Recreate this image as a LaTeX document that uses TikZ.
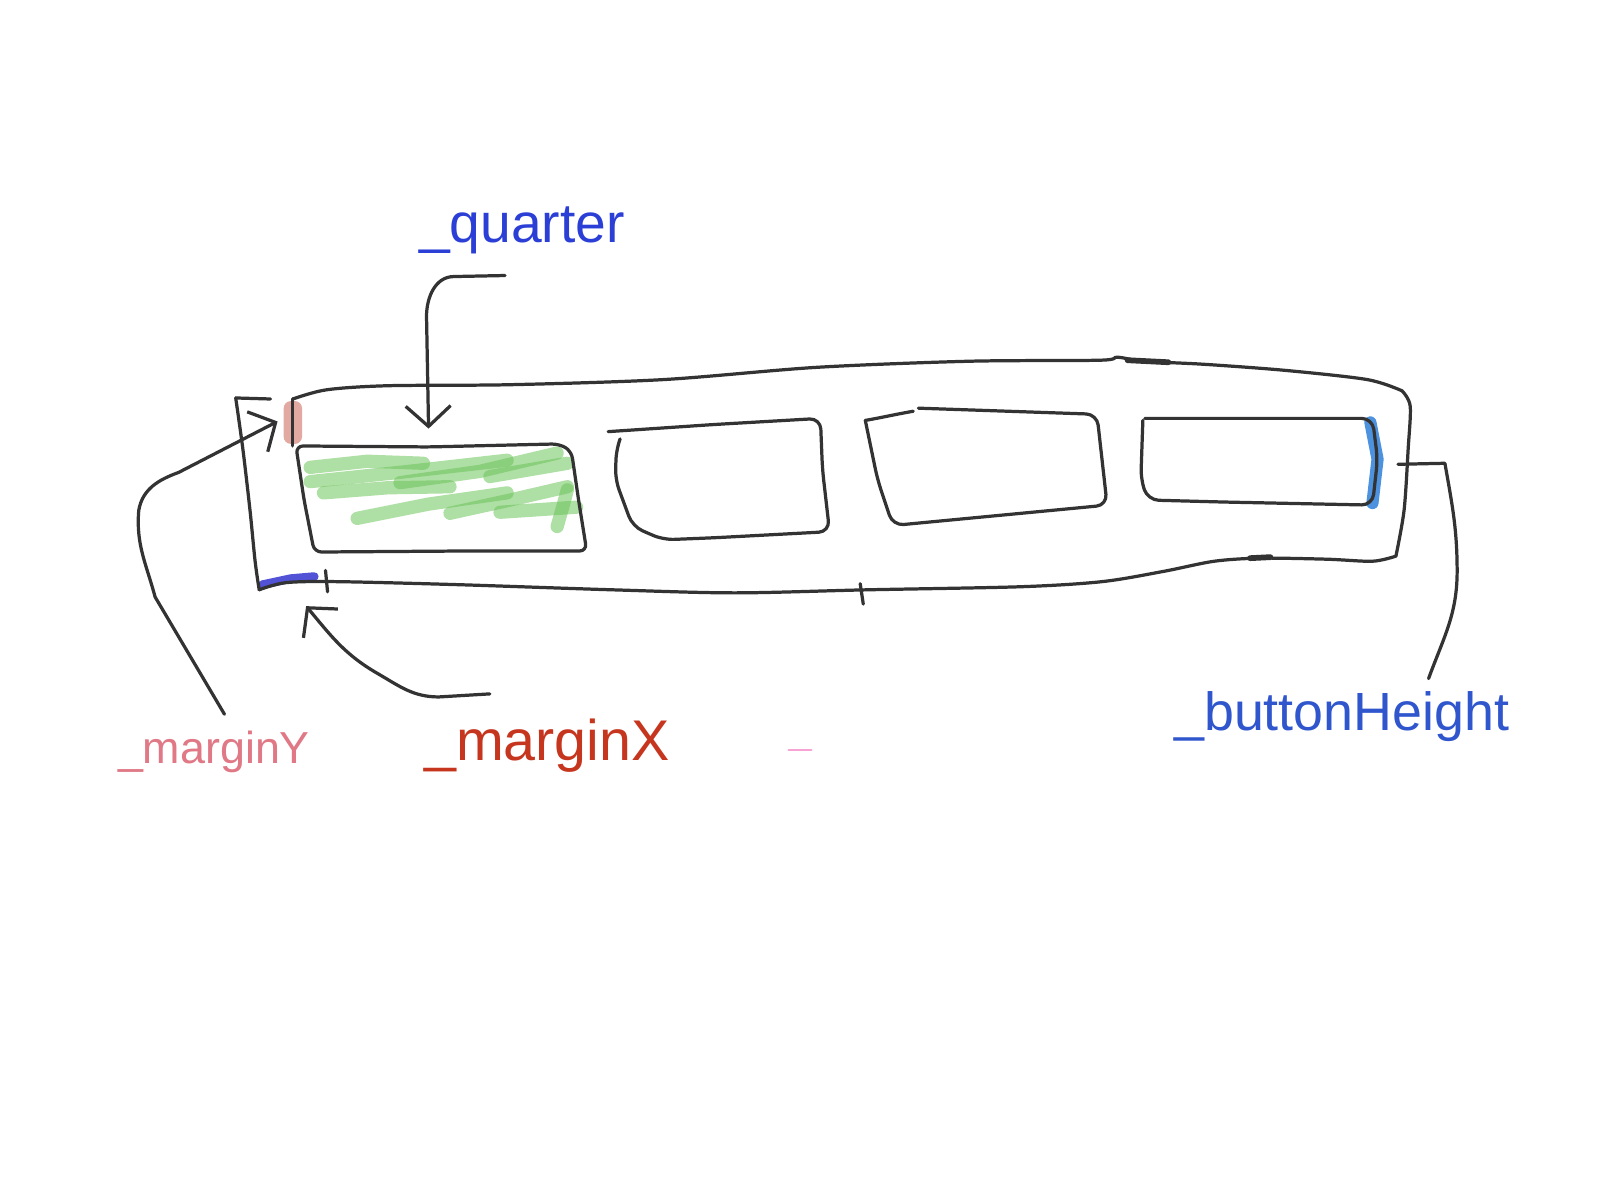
\documentclass[tikz,border=0pt]{standalone}
\usepackage{fontspec}
\setmainfont{Liberation Sans}
\usepackage{tikz}
\usetikzlibrary{arrows.meta}

\definecolor{ink}{HTML}{333333}
\definecolor{quarterblue}{HTML}{2B3FD6}
\definecolor{heightblue}{HTML}{2F56CC}
\definecolor{marginred}{HTML}{C6361F}
\definecolor{marginpink}{HTML}{E07886}
\definecolor{scribble}{HTML}{6CC45A}
\definecolor{edgeblue}{HTML}{3A86DA}
\definecolor{cornerblue}{HTML}{3F3FD2}
\definecolor{cornerred}{HTML}{D9948A}

\begin{document}
\begin{tikzpicture}[x=0.1mm,y=-0.1mm,>={Straight Barb[length=2mm,width=4.4mm]},line cap=round,line join=round]

    \tikzstyle{sketch}=[draw=ink, line width=0.9pt]
    \tikzstyle{leader}=[sketch, ->]
    \tikzstyle{scribbles}=[scribble, line width=3.7pt, opacity=0.55]
    \tikzstyle{dimtext}=[inner sep=0pt, anchor=base west]

    \useasboundingbox (0,0) rectangle (1568,1176);

    % the labels
    \node[dimtext, text=quarterblue, font=\fontsize{15.4}{18}\selectfont] (quarterlabel) at (410,238) {\_quarter};
    \node[dimtext, text=marginpink, font=\fontsize{12.5}{15}\selectfont] (marginYlabel) at (115,748) {\_marginY};
    \node[dimtext, text=marginred, font=\fontsize{16}{19}\selectfont] (marginXlabel) at (415,745) {\_marginX};
    \node[dimtext, text=heightblue, font=\fontsize{15}{18}\selectfont] (heightlabel) at (1150,716) {\_buttonHeight};

    % ends of the leaders
    \coordinate (qtail) at (495,270);
    \coordinate (qtip) at (420,420);
    \coordinate (ytail) at (220,700);
    \coordinate (ytip) at (272,413);
    \coordinate (xtail) at (480,680);
    \coordinate (xtip) at (300,594);
    \coordinate (hmark) at (1370,455);
    \coordinate (htail) at (1400,665);

    % coloured marks under the pen
    \fill[cornerred, opacity=0.8, rounded corners=2pt] (278,393) rectangle (296,435);
    \draw[cornerblue, line width=2.4pt, opacity=0.9] (257,573) -- (285,567) -- (308,565);
    \draw[edgeblue, line width=3.4pt, opacity=0.9] (1343,414) -- (1350,450) -- (1345,493);
    \draw[scribbles] (304,458) -- (360,452) -- (415,454);
    \draw[scribbles] (304,472) -- (400,462) -- (497,451);
    \draw[scribbles] (317,483) -- (380,478) -- (441,477);
    \draw[scribbles] (392,473) -- (470,462) -- (546,444);
    \draw[scribbles] (350,508) -- (420,494) -- (497,483);
    \draw[scribbles] (441,503) -- (500,490) -- (556,477);
    \draw[scribbles] (480,467) -- (556,454);
    \draw[scribbles] (490,502) -- (565,497);
    \draw[scribbles] (546,516) -- (552,495) -- (556,480);

    % the outer frame
    \draw[sketch] (265,391) -- (231,390);
    \draw[sketch] plot[smooth, tension=0.5] coordinates {(231,390) (238,440) (245,500) (250,550) (254,578)};
    \draw[sketch] plot[smooth, tension=0.5] coordinates {(254,578) (280,571) (330,570) (450,573) (600,578) (720,581) (850,578) (1000,575) (1080,570) (1140,560) (1190,550) (1235,547) (1300,548) (1345,550) (1368,545)};
    \draw[sketch] plot[smooth, tension=0.5] coordinates {(1368,545) (1376,500) (1380,440) (1382,398) (1374,383)};
    \draw[sketch] plot[smooth, tension=0.5] coordinates {(1374,383) (1340,372) (1260,363) (1180,357) (1120,354) (1095,350) (1078,353) (950,354) (800,360) (650,372) (500,377) (380,378) (320,382) (287,391)};
    \draw[sketch] (287,391) -- (287,437);
    \draw[sketch, line width=1.6pt] (1105,353) -- (1145,355);
    \draw[sketch, line width=1.6pt] (1225,547) -- (1245,546);
    \draw[sketch] (319,559) -- (321,580);
    \draw[sketch] (843,572) -- (846,592);

    % the four buttons
    \draw[sketch, rounded corners=2pt] (290,437) -- (420,438) -- (548,435) -- (560,442) -- (567,490) -- (575,540) -- (450,540) -- (308,541) -- (298,490) -- cycle;
    \draw[sketch, rounded corners=3pt] (596,423) -- (700,416) -- (804,410) -- (806,460) -- (813,521) -- (700,527) -- (650,529) -- (620,516) -- (603,470) -- (604,440) -- (607,432);
    \draw[sketch] (848,412) to[out=10,in=190] (895,403);
    \draw[sketch, rounded corners=3pt] (900,400) -- (1075,406) -- (1085,495) -- (875,515) -- (860,470) -- (848,412);
    \draw[sketch, rounded corners=3pt] (1122,410) -- (1345,410) -- (1350,450) -- (1345,495) -- (1200,492) -- (1125,490) -- (1118,470) -- (1120,412);

    % the leaders
    \draw[leader] (qtail) -- (445,271) to[out=180,in=90] (418,310) -- (qtip);
    \draw[leader] (ytail) -- (152,585) to[out=105,in=265] (136,500) to[out=80,in=200] (175,463) -- (ytip);
    \draw[leader] (xtail) -- (430,683) to[out=180,in=-30] (370,660) to[out=150,in=-50] (xtip);
    \draw[sketch] (hmark) -- (1416,454) to[out=-80,in=90] (1428,560) to[out=-90,in=70] (htail);

    \draw[magenta!60, line width=0.8pt, opacity=0.6] (773,735) -- (795,735);

\end{tikzpicture}
\end{document}
